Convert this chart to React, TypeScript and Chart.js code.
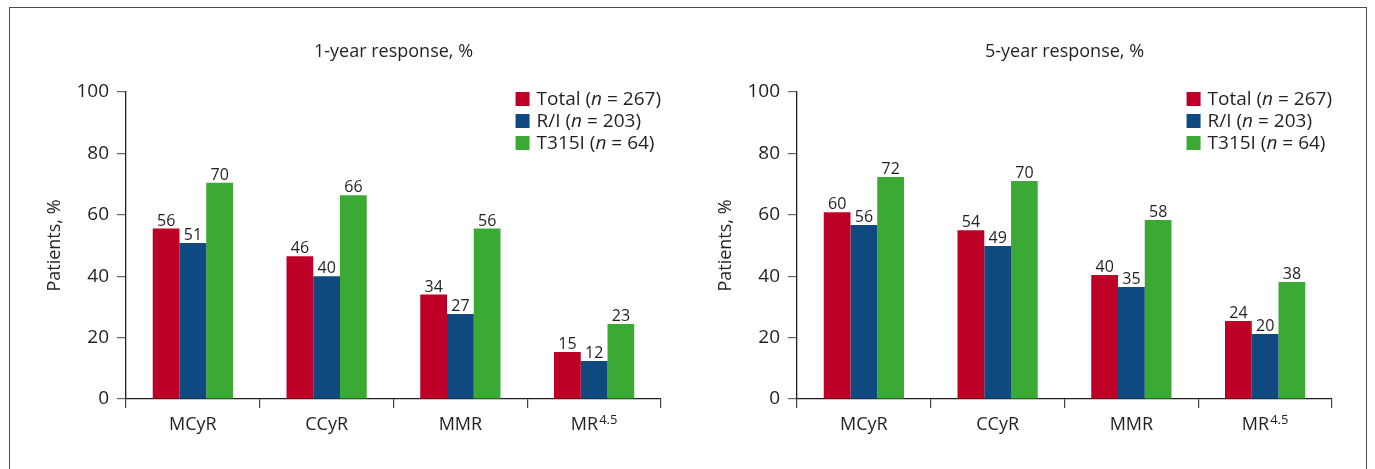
import React, { useEffect, useRef } from 'react';
import { Chart, registerables } from 'chart.js';

Chart.register(...registerables);

// ---- data ----
const categories = ['MCyR', 'CCyR', 'MMR', 'MR'];
const categorySup = ['', '', '', '4.5'];
const seriesNames = ['Total', 'R/I', 'T315I'];
const seriesN = ['267', '203', '64'];
const seriesColors = ['#BE0027', '#0F4980', '#3BAA35'];

const oneYearTitle = '1-year response, %';
const oneYearTotal = [55.5, 46.5, 34, 15.3];
const oneYearRI = [50.8, 40, 27.7, 12.4];
const oneYearT315I = [70.4, 66.4, 55.5, 24.4];
const oneYearTotalLabels = ['56', '46', '34', '15'];
const oneYearRILabels = ['51', '40', '27', '12'];
const oneYearT315ILabels = ['70', '66', '56', '23'];

const fiveYearTitle = '5-year response, %';
const fiveYearTotal = [60.8, 55, 40.4, 25.4];
const fiveYearRI = [56.7, 49.8, 36.5, 21.2];
const fiveYearT315I = [72.3, 71, 58.3, 38.1];
const fiveYearTotalLabels = ['60', '54', '40', '24'];
const fiveYearRILabels = ['56', '49', '35', '20'];
const fiveYearT315ILabels = ['72', '70', '58', '38'];

const yTicks = [0, 20, 40, 60, 80, 100];
const yTitle = 'Patients, %';

const FONT = '"Open Sans", "Noto Sans", sans-serif';
const TEXT = '#231F20';

type PanelProps = {
  title: string;
  values: number[][];
  labels: string[][];
};

function Panel({ title, values, labels }: PanelProps) {
  const ref = useRef<HTMLCanvasElement | null>(null);
  useEffect(() => {
    const canvas = ref.current;
    if (!canvas) return;

    const overlay = {
      id: 'overlay',
      afterDraw(chart: any) {
        const ctx = chart.ctx;
        const area = chart.chartArea;
        ctx.save();
        ctx.fillStyle = TEXT;
        // title
        ctx.font = `18px ${FONT}`;
        ctx.textAlign = 'center';
        ctx.textBaseline = 'middle';
        ctx.fillText(title, (area.left + area.right) / 2, 32);

        // data labels
        ctx.font = `16px ${FONT}`;
        ctx.textAlign = 'center';
        ctx.textBaseline = 'alphabetic';
        chart.data.datasets.forEach((ds: any, di: number) => {
          const meta = chart.getDatasetMeta(di);
          meta.data.forEach((bar: any, i: number) => {
            ctx.fillText(labels[di][i], bar.x, bar.y - 3);
          });
        });

        // category labels
        const xs = chart.scales.x;
        categories.forEach((c, i) => {
          const cx = xs.getPixelForValue(i);
          ctx.font = `18px ${FONT}`;
          const w1 = ctx.measureText(c).width;
          ctx.font = `13px ${FONT}`;
          const w2 = categorySup[i] ? ctx.measureText(categorySup[i]).width + 1 : 0;
          const start = cx - (w1 + w2) / 2;
          ctx.textAlign = 'left';
          ctx.font = `18px ${FONT}`;
          ctx.fillText(c, start, area.bottom + 31);
          if (categorySup[i]) {
            ctx.font = `13px ${FONT}`;
            ctx.fillText(categorySup[i], start + w1 + 1, area.bottom + 25);
          }
        });

        // legend
        const LF = 19;
        const rows = seriesNames.map((name, i) => {
          return [
            { t: `${name} (`, it: false },
            { t: 'n', it: true },
            { t: ` = ${seriesN[i]})`, it: false },
          ];
        });
        const widthOf = (row: any[]) =>
          row.reduce((s, p) => {
            ctx.font = `${p.it ? 'italic ' : ''}${LF}px ${FONT}`;
            return s + ctx.measureText(p.t).width;
          }, 0);
        const maxW = Math.max(...rows.map(widthOf));
        const sq = 14;
        const gap = 7;
        const x0 = area.right - maxW - sq - gap;
        ctx.textBaseline = 'middle';
        rows.forEach((row, i) => {
          const cy = area.top + 7 + i * 22;
          ctx.fillStyle = seriesColors[i];
          ctx.fillRect(x0, cy - sq / 2, sq, sq);
          ctx.fillStyle = TEXT;
          let x = x0 + sq + gap;
          row.forEach((p) => {
            ctx.font = `${p.it ? 'italic ' : ''}${LF}px ${FONT}`;
            ctx.textAlign = 'left';
            ctx.fillText(p.t, x, cy + 1);
            x += ctx.measureText(p.t).width;
          });
        });
        ctx.restore();
      },
    };

    const chart = new Chart(canvas, {
      type: 'bar',
      data: {
        labels: categories,
        datasets: seriesNames.map((n, i) => ({
          label: n,
          data: values[i],
          backgroundColor: seriesColors[i],
          borderWidth: 0,
          categoryPercentage: 0.6,
          barPercentage: 1.0,
        })),
      },
      options: {
        responsive: false,
        animation: false,
        devicePixelRatio: 1,
        layout: { padding: { left: 0, right: 19, top: 72, bottom: 11 } },
        plugins: {
          legend: { display: false },
          tooltip: { enabled: false },
          title: { display: false },
        },
        scales: {
          x: {
            ticks: { display: false },
            grid: {
              drawOnChartArea: false,
              drawTicks: true,
              tickLength: 9,
              color: '#444',
              lineWidth: 1.2,
              offset: true,
            },
            border: { color: TEXT, width: 1.3 },
            afterFit: (s: any) => {
              s.height = 50;
            },
          },
          y: {
            min: 0,
            max: 100,
            afterBuildTicks: (s: any) => {
              s.ticks = yTicks.map((v) => ({ value: v }));
            },
            ticks: {
              padding: 8,
              color: TEXT,
              font: { size: 19, family: FONT },
            },
            grid: {
              drawOnChartArea: false,
              drawTicks: true,
              tickLength: 9,
              color: '#666',
              lineWidth: 1.2,
            },
            border: { color: TEXT, width: 1.3 },
            title: {
              display: true,
              text: yTitle,
              color: TEXT,
              font: { size: 18, family: FONT },
              padding: { top: 24, bottom: 0 },
            },
            afterFit: (s: any) => {
              s.width = 106;
            },
          },
        },
      },
      plugins: [overlay],
    });
    return () => chart.destroy();
  }, [title, values, labels]);

  return <canvas ref={ref} width={660} height={440} style={{ width: 660, height: 440, display: 'block' }} />;
}

export default function App() {
  return (
    <div
      style={{
        position: 'fixed',
        left: 0,
        top: 0,
        width: 1375,
        height: 469,
        background: '#fff',
        overflow: 'hidden',
      }}
    >
      <div
        style={{
          position: 'absolute',
          left: 9,
          top: 7,
          width: 1356,
          height: 480,
          border: '1.5px solid #4a4a4a',
        }}
      />
      <div style={{ position: 'absolute', left: 20, top: 20 }}>
        <Panel
          title={oneYearTitle}
          values={[oneYearTotal, oneYearRI, oneYearT315I]}
          labels={[oneYearTotalLabels, oneYearRILabels, oneYearT315ILabels]}
        />
      </div>
      <div style={{ position: 'absolute', left: 691, top: 20 }}>
        <Panel
          title={fiveYearTitle}
          values={[fiveYearTotal, fiveYearRI, fiveYearT315I]}
          labels={[fiveYearTotalLabels, fiveYearRILabels, fiveYearT315ILabels]}
        />
      </div>
    </div>
  );
}
